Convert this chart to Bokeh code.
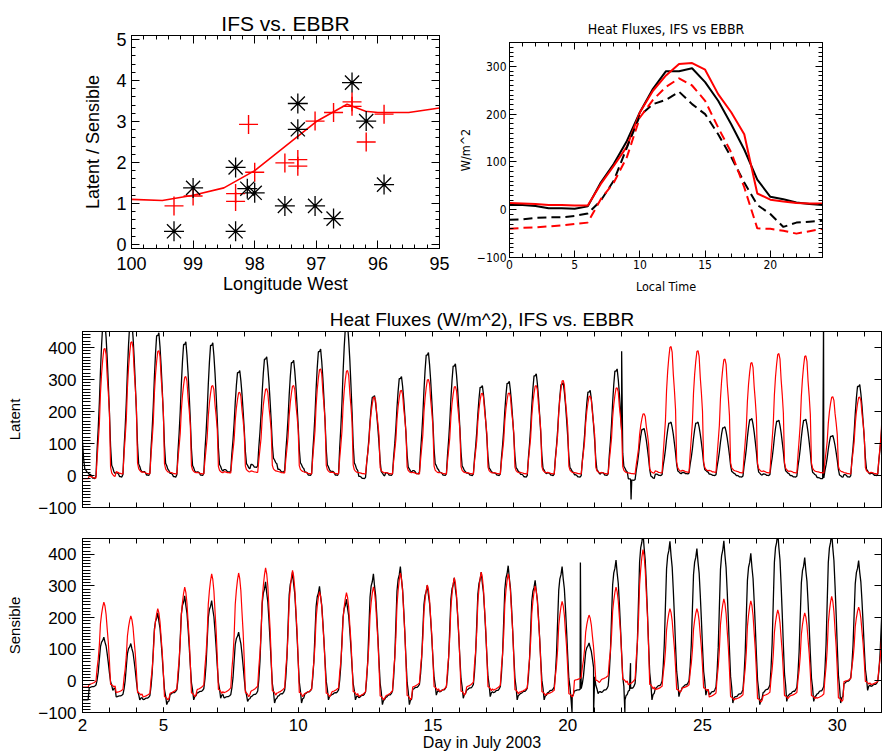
import numpy as np
from bokeh.plotting import figure
from bokeh.models import Range1d, LinearAxis, FixedTicker, SingleIntervalTicker
from bokeh.layouts import column, row
from bokeh.embed import file_html
from bokeh.resources import INLINE

FONT = "Liberation Sans"
NARROW = "'Liberation Sans Narrow', 'DejaVu Sans Condensed', sans-serif"

# ---------------- Panel 1: ratio vs longitude ----------------
ebbr_lon = [99.31, 99.0, 98.31, 98.31, 98.12, 98.0, 97.51, 97.3, 97.3, 97.02, 96.72, 96.42, 96.19, 95.9]
ebbr_ratio = [0.32, 1.38, 1.88, 0.32, 1.36, 1.26, 0.94, 3.44, 2.81, 0.94, 0.63, 3.95, 3.01, 1.46]
ifs_lon = [99.31, 99.0, 98.31, 98.31, 98.1, 98.0, 97.51, 97.3, 97.3, 97.02, 96.72, 96.42, 96.42, 96.19, 95.9]
ifs_ratio = [0.94, 1.18, 1.24, 1.05, 2.93, 1.76, 1.99, 2.07, 1.91, 3.01, 3.22, 3.48, 3.37, 2.5, 3.18]
fit_lon = [100, 99.5, 99.0, 98.5, 98.0, 97.5, 97.0, 96.5, 96.2, 96.0, 95.5, 95.0]
fit_ratio = [1.1, 1.07, 1.2, 1.38, 1.8, 2.4, 3.0, 3.42, 3.25, 3.22, 3.22, 3.33]
lon_ticks = [95, 96, 97, 98, 99, 100]
lon_minor = [95 + 0.2 * i for i in range(26)]
ratio_ticks = [0, 1, 2, 3, 4, 5]
ratio_minor = [0.2 * i for i in range(26)]

# ---------------- Panel 2: mean diurnal cycle ----------------
local_hour = list(range(25))
ebbr_latent_mean = [10, 10, 8, 3, 3, 2, 7, 57, 96, 144, 204, 253, 290, 290, 296, 267, 228, 179, 126, 63, 27, 22, 15, 12, 10]
ifs_latent_mean = [14, 13, 12, 10, 10, 9, 9, 54, 92, 132, 204, 249, 281, 305, 307, 293, 242, 204, 158, 34, 21, 17, 14, 13, 13]
ebbr_sens_mean = [-21, -20, -17, -16, -16, -13, -8, 19, 61, 130, 197, 221, 230, 247, 221, 200, 158, 110, 57, 10, -9, -36, -27, -25, -23]
ifs_sens_mean = [-40, -38, -37, -35, -33, -30, -27, 22, 57, 110, 193, 230, 257, 275, 260, 228, 172, 120, 47, -39, -40, -44, -50, -45, -40]
hour_ticks = [0, 5, 10, 15, 20]
hour_minor = list(range(25))
flux_ticks = [-100, 0, 100, 200, 300]
flux_minor = list(range(-100, 351, 10))

# ---------------- Panels 3/4: July 2003 daily peaks and night levels ----------------
days = list(range(1, 32))
ifs_latent_peak = [-10, 397, 418, 390, 309, 281, 260, 271, 281, 333, 328, 245, 266, 300, 278, 257,
                   258, 281, 297, 248, 274, 193, 403, 390, 364, 353, 381, 374, 246, 245, 300]
ifs_latent_base = [-10, -8, 5, 5, 5, 5, 8, 10, 8, 5, 5, 5, 5, 5, 5, 5, 5, 5, 5, 5, 5, 5, 8, 10, 10, 8, 8, 8, 8, 5, 5]
ebbr_latent_peak = [250, 480, 480, 446, 418, 415, 328, 371, 360, 395, 470, 250, 309, 384, 349, 281,
                    294, 318, 290, 266, 333, 147, 167, 167, 152, 178, 173, 176, 125, 284, 250]
ebbr_latent_base = [0, -10, -5, 0, -5, 0, 10, 25, 10, 0, 0, -10, 0, 5, 0, 0, 0, -5, 0, -5, 0, -15, 0, 5, 0, -5, 0, -5, -10, -5, 0]
ebbr_latent_spike_t = [22.0, 22.35, 29.49]
ebbr_latent_spike_v = [388, -75, 480]

ifs_sens_peak = [-20, 249, 205, 228, 296, 338, 341, 357, 349, 282, 279, 297, 341, 303, 326, 344,
                 338, 300, 251, 208, 296, 415, 228, 228, 259, 253, 224, 215, 267, 233, 240]
ifs_sens_base = [-20, -20, -45, -60, -50, -40, -50, -45, -50, -50, -45, -60, -60, -30, -45, -31,
                 -41, -46, -51, -5, -5, -26, -36, -31, -61, -67, -56, -56, -65, -10, -20]
ebbr_sens_peak = [-60, 138, 118, 215, 269, 254, 154, 313, 344, 299, 258, 338, 361, 303, 326, 344,
                  364, 318, 361, 120, 382, 470, 441, 418, 443, 403, 470, 390, 470, 380, 300]
ebbr_sens_base = [-60, -30, -60, -75, -60, -55, -65, -70, -70, -60, -60, -75, -75, -45, -55, -50,
                  -60, -60, -60, -40, -60, -60, -50, -45, -70, -75, -65, -65, -70, -30, -35]
ebbr_sens_spike_t = [20.16, 20.47, 20.96, 22.12, 22.33]
ebbr_sens_spike_v = [-100, 374, -100, -100, 56]

day_ticks = [2, 5, 10, 15, 20, 25, 30]
day_minor = list(range(2, 33))
wm2_ticks = [-100, 0, 100, 200, 300, 400]
UTC_OFFSET_H = 6
X_END = 31.64


def series(peaks, bases, profile, spike_t=(), spike_v=()):
    prof = np.array(profile[:24], dtype=float)
    shape = (prof - prof.min()) / (prof.max() - prof.min())
    xs, ys = [], []
    for i, d in enumerate(days):
        for h in range(24):
            x = d + (h + UTC_OFFSET_H) / 24.0
            if x < 2 or x > X_END + 0.05:
                continue
            xs.append(x)
            ys.append(bases[i] + (peaks[i] - bases[i]) * shape[h])
    xs += list(spike_t)
    ys += list(spike_v)
    order = np.argsort(xs)
    return list(np.array(xs)[order]), list(np.array(ys)[order])


def style_axis(ax, font, size, tick_in, minor_in, standoff):
    ax.major_tick_in = tick_in
    ax.major_tick_out = 0
    ax.minor_tick_in = minor_in
    ax.minor_tick_out = 0
    ax.axis_line_color = "black"
    ax.major_tick_line_color = "black"
    ax.minor_tick_line_color = "black" if minor_in > 0 else None
    ax.major_label_text_font = font
    ax.major_label_text_color = "black"
    ax.major_label_text_font_size = size
    ax.major_label_standoff = standoff
    ax.axis_label_text_font = font
    ax.axis_label_text_font_style = "normal"
    ax.axis_label_text_color = "black"


def tick_only_axis(p, side, positions, length, line=True):
    """An unlabeled mirror axis: only short inward tick marks."""
    ax = LinearAxis(ticker=FixedTicker(ticks=[], minor_ticks=positions))
    ax.major_tick_in = 0
    ax.major_tick_out = 0
    ax.minor_tick_in = length
    ax.minor_tick_out = 0
    ax.minor_tick_line_color = "black"
    ax.axis_line_color = "black" if line else None
    ax.major_label_standoff = 0
    p.add_layout(ax, side)
    return ax


def base_fig(width, height, xr, yr, borders, title=None):
    l, r, t, b = borders
    p = figure(width=width, height=height, x_range=xr, y_range=yr,
               output_backend="svg", toolbar_location=None,
               min_border_left=l, min_border_right=r, min_border_top=t, min_border_bottom=b)
    p.grid.visible = False
    p.outline_line_color = "black"
    p.background_fill_color = "white"
    p.border_fill_color = "white"
    if title:
        p.title.text = title
        p.title.align = "center"
        p.title.text_font_style = "normal"
        p.title.text_color = "black"
    return p


# ---------- Figure 1 ----------
p1 = base_fig(450, 300, Range1d(100, 95), Range1d(-0.1, 5.1), (131, 11, 35, 52), "IFS vs. EBBR")
p1.title.text_font = FONT
p1.title.text_font_size = "21px"
p1.title.standoff = 2
p1.xaxis.ticker = FixedTicker(ticks=lon_ticks, minor_ticks=lon_minor)
p1.yaxis.ticker = FixedTicker(ticks=ratio_ticks, minor_ticks=ratio_minor)
style_axis(p1.xaxis[0], FONT, "18px", 8, 4, 8)
style_axis(p1.yaxis[0], FONT, "18px", 8, 4, 5)
p1.xaxis.axis_label = "Longitude West"
p1.yaxis.axis_label = "Latent / Sensible"
p1.xaxis.axis_label_text_font_size = "18px"
p1.yaxis.axis_label_text_font_size = "18px"
p1.xaxis.axis_label_standoff = 1
p1.yaxis.axis_label_standoff = 10
tick_only_axis(p1, "above", lon_minor, 4)
tick_only_axis(p1, "above", lon_ticks, 8, line=False)
tick_only_axis(p1, "right", ratio_minor, 4)
tick_only_axis(p1, "right", ratio_ticks, 8, line=False)
p1.line(fit_lon, fit_ratio, line_color="red", line_width=1.6)
p1.scatter(ifs_lon, ifs_ratio, marker="cross", size=19, line_color="red", line_width=1.4)
p1.scatter(ebbr_lon, ebbr_ratio, marker="asterisk", size=20, line_color="black", line_width=1.3)

# ---------- Figure 2 ----------
p2 = base_fig(432, 300, Range1d(0, 24), Range1d(-100, 350), (59, 60, 42, 43), "Heat Fluxes, IFS vs EBBR")
p2.title.text_font = NARROW
p2.title.text_font_size = "14px"
p2.title.standoff = 12
p2.xaxis.ticker = FixedTicker(ticks=hour_ticks, minor_ticks=hour_minor)
p2.yaxis.ticker = FixedTicker(ticks=flux_ticks, minor_ticks=flux_minor)
style_axis(p2.xaxis[0], NARROW, "12px", 7, 4, 2)
style_axis(p2.yaxis[0], NARROW, "12px", 7, 4, 3)
p2.xaxis.axis_label = "Local Time"
p2.yaxis.axis_label = "W/m^2"
p2.xaxis.axis_label_text_font_size = "12.5px"
p2.yaxis.axis_label_text_font_size = "12.5px"
p2.xaxis.axis_label_standoff = 7
p2.yaxis.axis_label_standoff = 1
tick_only_axis(p2, "above", hour_minor, 4)
tick_only_axis(p2, "above", hour_ticks, 7, line=False)
tick_only_axis(p2, "right", flux_minor, 4)
tick_only_axis(p2, "right", flux_ticks, 7, line=False)
p2.line(local_hour, ebbr_latent_mean, line_color="black", line_width=2)
p2.line(local_hour, ifs_latent_mean, line_color="red", line_width=2)
p2.line(local_hour, ebbr_sens_mean, line_color="black", line_width=2, line_dash="9 5")
p2.line(local_hour, ifs_sens_mean, line_color="red", line_width=2, line_dash="9 5")


# ---------- Figures 3 & 4 ----------
def ts_fig(height, borders, ylabel, title=None, xlabels=False):
    p = base_fig(882, height, Range1d(2, X_END), Range1d(-100, 450), borders, title)
    if title:
        p.title.text_font = FONT
        p.title.text_font_size = "19px"
        p.title.standoff = 4
    if xlabels:
        p.xaxis.ticker = FixedTicker(ticks=day_ticks, minor_ticks=day_minor)
    else:
        p.xaxis.ticker = FixedTicker(ticks=[], minor_ticks=day_minor)
    p.yaxis.ticker = SingleIntervalTicker(interval=100, num_minor_ticks=10)
    style_axis(p.xaxis[0], FONT, "17px", 5, 5, 6)
    style_axis(p.yaxis[0], FONT, "17px", 12, 8, 6)
    p.yaxis.axis_label = ylabel
    p.yaxis.axis_label_text_font_size = "15px"
    p.yaxis.axis_label_standoff = 12
    bottom = p.xaxis[0]
    tick_only_axis(p, "above", day_minor, 5)
    tick_only_axis(p, "right", wm2_ticks, 7)
    return p, bottom


p3, _ = ts_fig(220, (82, 1, 31, 13), "Latent", title="Heat Fluxes (W/m^2), IFS vs. EBBR")
bx, by = series(ebbr_latent_peak, ebbr_latent_base, ebbr_latent_mean, ebbr_latent_spike_t, ebbr_latent_spike_v)
rx, ry = series(ifs_latent_peak, ifs_latent_base, ifs_latent_mean)
p3.line(bx, by, line_color="black", line_width=1.3)
p3.line(rx, ry, line_color="red", line_width=1.2)

p4, p4_bottom = ts_fig(233, (82, 1, 18, 39), "Sensible", xlabels=True)
p4_bottom.axis_label = "Day in July 2003"
p4_bottom.axis_label_text_font_size = "16px"
p4_bottom.axis_label_standoff = 0
bx, by = series(ebbr_sens_peak, ebbr_sens_base, ebbr_sens_mean, ebbr_sens_spike_t, ebbr_sens_spike_v)
rx, ry = series(ifs_sens_peak, ifs_sens_base, ifs_sens_mean)
p4.line(bx, by, line_color="black", line_width=1.3)
p4.line(rx, ry, line_color="red", line_width=1.2)

layout = column(row(column(p1), column(p2)), p3, p4)
open("out.html", "w").write(file_html(layout, INLINE))
